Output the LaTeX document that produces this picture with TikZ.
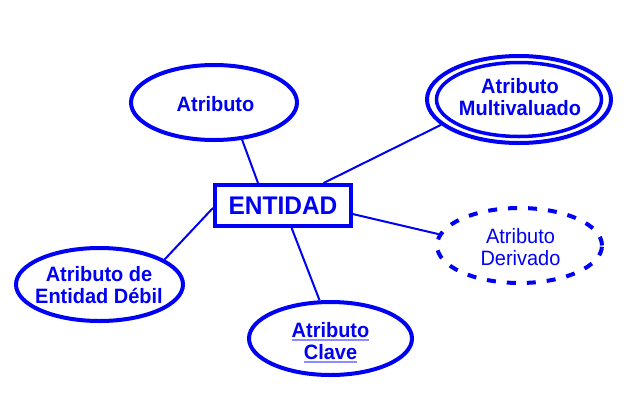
\documentclass[tikz,border=0pt]{standalone}
\usepackage{fontspec}
\setmainfont[FakeStretch=0.96]{Liberation Sans}
\usetikzlibrary{shapes.geometric}
\definecolor{eblue}{RGB}{0,0,245}
\definecolor{ulblue}{RGB}{140,140,255}
\newcommand\myul[1]{\setbox0\hbox{#1}\leavevmode\rlap{\textcolor{ulblue}{\rule[-4pt]{\wd0}{1.8pt}}}\box0}
\begin{document}
\begin{tikzpicture}[x=1pt,y=-1pt,
  attr/.style={ellipse, draw=eblue, line width=4pt, inner sep=0pt},
  lbl/.style={text=eblue, font=\fontsize{20.8}{22}\selectfont\bfseries, align=center, inner sep=0pt},
  lblreg/.style={text=eblue, font=\fontsize{20.8}{22}\selectfont, align=center, inner sep=0pt},
  entbox/.style={rectangle, draw=eblue, line width=4pt, inner sep=0pt, text=eblue, font=\fontsize{25.5}{26}\selectfont\bfseries},
  conn/.style={draw=eblue, line width=2pt}]
\useasboundingbox (0,0) rectangle (629,416);

% entity
\node[entbox, minimum width=136, minimum height=41] (ent) at (283,205.5) {ENTIDAD};

% simple attribute
\node[attr, minimum width=166, minimum height=75] (a1) at (214,102.5) {};
\node[lbl] (t1) at (215.5,104.4) {Atributo};

% multivalued attribute
\node[attr, minimum width=184, minimum height=87] (m1) at (519,99.5) {};
\node[attr, line width=3.5pt, minimum width=165, minimum height=74] (m1i) at (519,99.5) {};
\node[lbl] (tm) at (520,97) {Atributo\\Multivaluado};

% derived attribute
\node[attr, dashed, dash pattern=on 9pt off 11pt, minimum width=165, minimum height=75] (d1) at (519.5,245.5) {};
\node[lblreg] (td) at (520.5,246.9) {Atributo\\Derivado};

% weak entity attribute
\node[attr, minimum width=167, minimum height=73] (w1) at (99.5,284.5) {};
\node[lbl] (tw) at (99,284.8) {Atributo de\\Entidad Débil};

% key attribute
\node[attr, minimum width=163, minimum height=73] (k1) at (330.5,338.5) {};
\node[lbl] (tk) at (330.5,342.7) {\myul{Atributo}\\\myul{Clave}};

% connectors
\draw[conn] (a1.-53) -- (ent.138);
\draw[conn] (m1.-162) -- (ent.29);
\draw[conn] (ent.-7.7) -- (d1.172.7);
\draw[conn] (ent.-178) -- (w1.21.6);
\draw[conn] (ent.-69) -- (k1.106.6);
\end{tikzpicture}
\end{document}
